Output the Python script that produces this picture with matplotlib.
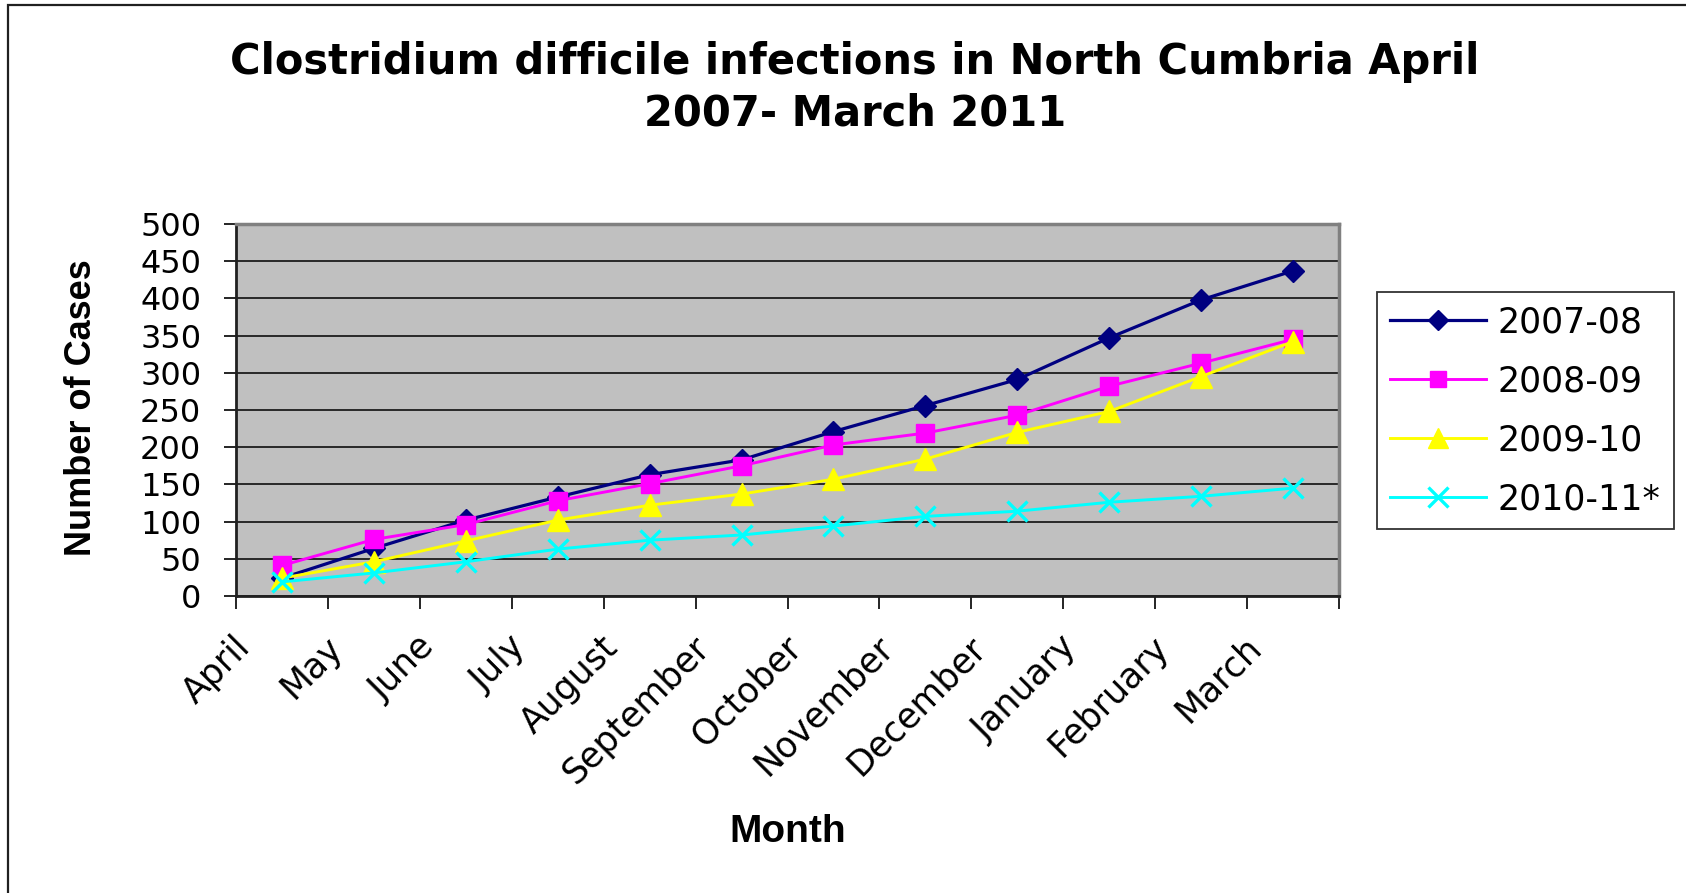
import matplotlib
matplotlib.use("Agg")
import matplotlib.pyplot as plt
import matplotlib.transforms as mtransforms
from matplotlib.patches import Rectangle

plt.rcParams['font.family'] = ['DejaVu Sans']

months = ['April', 'May', 'June', 'July', 'August', 'September', 'October',
          'November', 'December', 'January', 'February', 'March']

# cumulative cases per season
cases_0708 = [24, 64, 102, 133, 163, 183, 221, 256, 291, 347, 398, 437]
cases_0809 = [41, 76, 96, 128, 151, 175, 203, 219, 243, 282, 313, 345]
cases_0910 = [24, 46, 74, 102, 122, 137, 157, 184, 220, 248, 295, 342]
cases_1011 = [19, 31, 46, 63, 75, 82, 94, 107, 114, 126, 134, 145]

seasons = ['2007-08', '2008-09', '2009-10', '2010-11*']
yticks = list(range(0, 501, 50))

W, H = 1686, 893
fig = plt.figure(figsize=(W / 100, H / 100), dpi=100)
fig.patch.set_facecolor('white')

# outer chart border (only left and top visible)
fig.patches.append(Rectangle((8 / W, -0.05), 1.2, 1 - 5 / H + 0.05,
                             transform=fig.transFigure, fill=False,
                             edgecolor='#202020', linewidth=1.6, zorder=0))

ax = fig.add_axes([236 / W, 1 - 596 / H, (1339 - 236) / W, (596 - 224) / H])
ax.set_facecolor('#C0C0C0')

x = list(range(len(months)))
ax.plot(x, cases_0708, color='#000080', lw=2.3, marker='D', ms=11,
        mec='#000080', label=seasons[0], zorder=5)
ax.plot(x, cases_0809, color='#FF00FF', lw=2.1, marker='s', ms=12.5,
        mec='#FF00FF', label=seasons[1], zorder=5)
ax.plot(x, cases_0910, color='#FFFF00', lw=2.1, marker='^', ms=15.5,
        mec='#FFFF00', label=seasons[2], zorder=5)
ax.plot(x, cases_1011, color='#00FFFF', lw=2.1, marker='x', ms=15,
        mew=2.4, label=seasons[3], zorder=5)

ax.set_xlim(-0.5, len(months) - 0.5)
ax.set_ylim(0, 500)
ax.set_yticks(yticks)
ax.yaxis.grid(True, color='black', lw=1.1)
ax.set_axisbelow(True)
ax.tick_params(axis='y', length=9, width=1.2, direction='out', pad=16,
               labelsize=23)

# month labels at category centres, tick marks between categories
ax.set_xticks(x)
ax.set_xticklabels(months, rotation=45, rotation_mode='anchor',
                   ha='right', va='center', fontsize=25)
ax.set_xticks([i - 0.5 for i in range(len(months) + 1)], minor=True)
ax.tick_params(axis='x', which='major', length=0, pad=33)
ax.tick_params(axis='x', which='minor', length=9, width=1.2, direction='out')
shift = mtransforms.ScaledTranslation(-0.37, 0, fig.dpi_scale_trans)
for lab in ax.get_xticklabels():
    lab.set_transform(lab.get_transform() + shift)

for side in ['left', 'bottom']:
    ax.spines[side].set_color('#202020')
    ax.spines[side].set_linewidth(2)
for side in ['top', 'right']:
    ax.spines[side].set_color('#808080')
    ax.spines[side].set_linewidth(2.5)

fig.text(855 / W, 1 - 62 / H, 'Clostridium difficile infections in North Cumbria April',
         ha='center', va='center', fontsize=30, fontweight='bold')
fig.text(855 / W, 1 - 113 / H, '2007- March 2011',
         ha='center', va='center', fontsize=30, fontweight='bold')

fig.text(82 / W, 1 - 408 / H, 'Number of Cases', rotation=90,
         ha='center', va='center', fontsize=26, fontweight='bold',
         family='Liberation Sans')
fig.text(788 / W, 1 - 832 / H, 'Month', ha='center', va='center',
         fontsize=28, fontweight='bold', family='Liberation Sans')

leg = fig.legend(loc='upper left', bbox_to_anchor=(1377 / W, 1 - 292 / H),
                 bbox_transform=fig.transFigure, borderaxespad=0,
                 fontsize=25, frameon=True, fancybox=False, shadow=False,
                 handlelength=2.75, handletextpad=0.35, borderpad=0.38,
                 labelspacing=0.72, markerscale=0.95)
leg.get_frame().set_edgecolor('black')
leg.get_frame().set_linewidth(1.3)

fig.savefig('out.png', dpi=100, facecolor='white')
